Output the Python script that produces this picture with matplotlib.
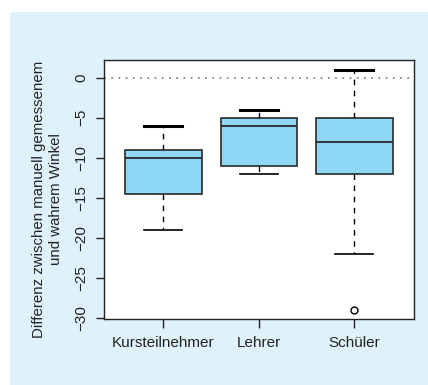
import matplotlib
matplotlib.use("Agg")
import matplotlib.pyplot as plt
from matplotlib.patches import Rectangle

plt.rcParams['font.family'] = ['Liberation Sans', 'DejaVu Sans']

# five-number summaries per group (difference in degrees)
groups = ["Kursteilnehmer", "Lehrer", "Schüler"]
whisker_high = [-6, -4, 1]
q3 = [-9, -5, -5]
median = [-10, -6, -8]
q1 = [-14.5, -11, -12]
whisker_low = [-19, -12, -22]
outliers = [[], [], [-29]]

yticks = [0, -5, -10, -15, -20, -25, -30]

stats = []
for i, name in enumerate(groups):
    stats.append({
        "label": name,
        "whishi": whisker_high[i],
        "q3": q3[i],
        "med": median[i],
        "q1": q1[i],
        "whislo": whisker_low[i],
        "fliers": outliers[i],
    })

fig = plt.figure(figsize=(4.28, 3.85), dpi=100)
fig.patch.set_facecolor("white")
# light blue panel behind the plot
fig.patches.append(Rectangle((10 / 428, 0), 1, 1 - 12 / 385, transform=fig.transFigure,
                             facecolor="#dff1fb", edgecolor="none", zorder=-1))

ax = fig.add_axes([0.2437, 0.1727, 0.7229, 0.6707])
ax.set_facecolor("white")

edge = "#2a2a2a"
bp = ax.bxp(stats, positions=[1, 2, 3], widths=0.8, patch_artist=True,
            boxprops=dict(facecolor="#8dd8f6", edgecolor=edge, linewidth=1.2),
            medianprops=dict(color=edge, linewidth=1.3),
            whiskerprops=dict(color="black", linewidth=1.0, linestyle=(0, (4, 4))),
            capprops=dict(color="black", linewidth=1.2),
            capwidths=0.4,
            flierprops=dict(marker="o", markersize=5, markerfacecolor="white",
                            markeredgecolor="black", markeredgewidth=1.0))
# upper staples are drawn heavier
for cap in bp["caps"][1::2]:
    cap.set_linewidth(2.2)

ax.axhline(0, color="#888888", linestyle=(0, (1, 3)), linewidth=1.3, zorder=0)

ax.set_xlim(0.382, 3.622)
ax.set_ylim(-30.1, 2.175)

ax.set_yticks(yticks)
ax.set_yticklabels([str(t).replace("-", "\u2212") for t in yticks],
                   rotation=90, va="center")
ax.set_xticks([1, 2, 3])
ax.set_xticklabels(groups)

ax.tick_params(axis="y", length=5.5, width=1.0, pad=6, labelsize=11, colors="#222222")
ax.tick_params(axis="x", length=6.5, width=1.0, pad=6, labelsize=11, colors="#222222")
for s in ax.spines.values():
    s.set_linewidth(1.0)
    s.set_color("#222222")

fig.text(0.111, 0.483, "Differenz zwischen manuell gemessenem\nund wahrem Winkel",
         rotation=90, ha="center", va="center", multialignment="center",
         fontsize=10.8, linespacing=1.25, color="#222222")

fig.savefig("out.png", dpi=100)
